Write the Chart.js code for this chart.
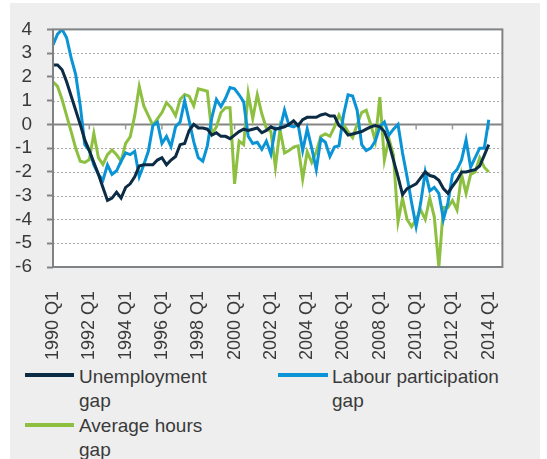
<!DOCTYPE html>
<html>
<head>
<meta charset="utf-8">
<script src="https://cdn.jsdelivr.net/npm/chart.js@4/dist/chart.umd.min.js"></script>
<style>
  html, body { margin: 0; padding: 0; background: #ffffff; }
  body { width: 547px; height: 459px; position: relative; overflow: hidden;
         font-family: "Liberation Sans", Arial, sans-serif; }
  #panel { position: absolute; left: 10px; top: 3px; width: 530px; height: 456px; background: #eeeeee; }
  #wrap { position: absolute; left: 0; top: 0; width: 530px; height: 362px; }
  .lg-line { position: absolute; height: 4px; }
  .lg-text { position: absolute; font-family: "Liberation Sans", Arial, sans-serif; font-size: 19px; line-height: 24px; color: #3a3a3a; white-space: nowrap; }
</style>
</head>
<body>
<div id="panel">
  <div id="wrap"><canvas id="c"></canvas></div>
</div>
<div id="legend"></div>
<script>
// ---- data (1990 Q1 .. 2014 Q1, quarterly) ----
const years = [];
for (let yr = 1990; yr <= 2014; yr++) years.push(yr);
const categories = [];
years.forEach(yr => { for (let q = 1; q <= 4; q++) categories.push(yr + ' Q' + q); });

const seriesNames = ['Unemployment gap', 'Labour participation gap', 'Average hours gap'];

const unemploymentGap = [
  2.5, 2.5, 2.3, 1.8, 1.2, 0.6, 0.0, -0.65, -1.1, -1.6,
  -2.1, -2.65, -3.2, -3.1, -2.85, -3.1, -2.65, -2.5, -2.2, -1.75,
  -1.7, -1.7, -1.7, -1.5, -1.4, -1.7, -1.5, -1.35, -0.85, -0.8,
  -0.25, 0.0, -0.15, -0.15, -0.2, -0.45, -0.35, -0.5, -0.5, -0.6,
  -0.45, -0.3, -0.2, -0.25, -0.2, -0.15, -0.35, -0.25, -0.1, -0.2,
  -0.15, -0.1, 0.0, 0.15, -0.05, 0.2, 0.3, 0.3, 0.3, 0.4,
  0.45, 0.35, 0.35, -0.05, -0.2, -0.45, -0.4, -0.35, -0.3, -0.2,
  -0.1, -0.05, -0.1, -0.3, -0.8, -1.5, -2.2, -2.95, -2.7, -2.6,
  -2.5, -2.25, -2.0, -2.15, -2.2, -2.35, -2.7, -2.9, -2.6, -2.35,
  -2.0, -2.0, -1.95, -1.9, -1.75, -1.3, -0.85
];
const participationGap = [
  3.35, 3.8, 4.0, 3.65, 2.8, 2.1, 0.8, -0.85, -1.1, -1.7,
  -2.1, -2.35, -1.7, -2.1, -1.95, -1.55, -1.2, -1.27, -1.13, -2.2,
  -1.7, -1.13, -0.05, 0.1, -0.8, -0.5, -0.93, -0.1, 0.1, 1.0,
  0.15, -0.72, -1.4, -1.55, -0.9, 0.3, 1.05, 0.75, 1.1, 1.55,
  1.5, 1.25, 0.95, -0.5, -0.8, -0.75, -1.05, -0.7, -1.25, -0.15,
  -0.2, 0.6, -0.05, -0.1, 0.0, -1.1, -0.2, -1.0, -1.9, -0.6,
  -0.75, -1.35, -0.95, -0.9, 0.4, 1.25, 1.2, 0.6, -0.85, -1.1,
  -1.0, -0.7, -0.1, 0.1, -0.45, -0.2, 0.0, -1.2, -2.2, -3.3,
  -4.3, -3.3, -2.0, -2.8, -2.65, -2.9, -4.0, -3.3, -2.1, -1.9,
  -1.5, -0.65, -1.8, -1.4, -1.0, -1.0, 0.2
];
const hoursGap = [
  1.8, 1.6, 1.05, 0.37, -0.3, -1.0, -1.55, -1.6, -1.48, -0.38,
  -1.4, -1.68, -1.27, -1.07, -1.27, -1.55, -0.8, -0.52, 0.37, 1.6,
  0.78, 0.37, -0.04, 0.23, 0.5, 0.92, 0.71, 0.37, 1.05, 1.26,
  1.19, 0.78, 1.5, 1.45, 1.4, -0.4, -0.1, 0.5, 0.7, 0.7,
  -2.5, -0.7, -0.85, 1.3, 0.25, 1.25, 0.45, -0.15, -0.3, -1.8,
  -0.2, -1.2, -1.1, -0.95, -0.9, -2.3, -1.15, -1.6, -1.15, -0.5,
  -0.4, -0.5, -0.1, 0.4, 0.0, -0.3, -0.55, 0.0, 0.5, 0.6,
  0.0, -0.7, 1.15, -1.5, -0.6, -1.3, -4.1, -3.1, -4.0, -4.3,
  -4.0, -3.6, -4.0, -3.1, -3.9, -6.0, -3.5, -3.5, -3.2, -3.6,
  -2.1, -2.9, -2.1, -2.0, -1.4, -1.8, -2.0
];
const yMin = -6, yMax = 4, yStep = 1;
const labelEvery = 8;

const colors = ['#0c2b44', '#0a94d6', '#8dc040'];

// ---- legend (HTML text) ----
const legendItems = [
  { name: seriesNames[0], color: colors[0], line: [25, 373, 49], text: [79, 365] },
  { name: seriesNames[1], color: colors[1], line: [278, 373, 50], text: [332, 365] },
  { name: seriesNames[2], color: colors[2], line: [25, 423, 49], text: [79, 414] }
];
const lg = document.getElementById('legend');
legendItems.forEach(it => {
  const l = document.createElement('div');
  l.className = 'lg-line';
  l.style.left = it.line[0] + 'px'; l.style.top = it.line[1] + 'px';
  l.style.width = it.line[2] + 'px'; l.style.background = it.color;
  lg.appendChild(l);
  const t = document.createElement('div');
  t.className = 'lg-text';
  t.style.left = it.text[0] + 'px'; t.style.top = it.text[1] + 'px';
  const words = it.name.split(' ');
  const last = words.pop();
  t.innerHTML = words.join(' ') + '<br>' + last;
  lg.appendChild(t);
});

// ---- plugin: plot background, dotted grid, zero line, category tick marks, frame ----
const framePlugin = {
  id: 'frame',
  beforeDraw(chart) {
    const { ctx, chartArea: a } = chart;
    ctx.save();
    ctx.fillStyle = '#ffffff';
    ctx.fillRect(a.left, a.top, a.right - a.left, a.bottom - a.top);
    ctx.restore();
  },
  beforeDatasetsDraw(chart) {
    const { ctx, chartArea: a, scales } = chart;
    ctx.save();
    ctx.strokeStyle = '#a9a9a9';
    ctx.lineWidth = 1;
    ctx.setLineDash([2, 2]);
    scales.y.ticks.forEach(t => {
      if (t.value === 0) return;
      const py = Math.round(scales.y.getPixelForValue(t.value)) + 0.5;
      ctx.beginPath(); ctx.moveTo(a.left, py); ctx.lineTo(a.right, py); ctx.stroke();
    });
    ctx.setLineDash([]);
    const y0 = scales.y.getPixelForValue(0);
    ctx.strokeStyle = '#858585';
    ctx.lineWidth = 2;
    ctx.beginPath(); ctx.moveTo(a.left, y0); ctx.lineTo(a.right, y0); ctx.stroke();
    ctx.strokeStyle = '#9a9a9a';
    ctx.lineWidth = 1.5;
    for (let i = 0; i < categories.length; i += labelEvery) {
      const px = scales.x.getPixelForValue(i);
      ctx.beginPath(); ctx.moveTo(px, y0); ctx.lineTo(px, y0 + 5); ctx.stroke();
    }
    ctx.restore();
  },
  afterDatasetsDraw(chart) {
    const { ctx, chartArea: a } = chart;
    ctx.save();
    ctx.strokeStyle = '#7f8385';
    ctx.lineWidth = 2;
    ctx.strokeRect(a.left, a.top, a.right - a.left, a.bottom - a.top);
    ctx.restore();
  }
};

const font = { family: '"Liberation Sans", Arial, sans-serif', size: 18 };
const yFont = { family: '"Liberation Sans", Arial, sans-serif', size: 19 };

new Chart(document.getElementById('c'), {
  type: 'line',
  data: {
    labels: categories,
    datasets: [unemploymentGap, participationGap, hoursGap].map((d, k) => ({
      label: seriesNames[k],
      data: d,
      borderColor: colors[k],
      backgroundColor: colors[k],
      borderWidth: 3,
      pointRadius: 0,
      tension: 0,
      fill: false
    }))
  },
  options: {
    responsive: true,
    maintainAspectRatio: false,
    animation: false,
    events: [],
    layout: { padding: { top: 20, right: 24, left: 0, bottom: 0 } },
    plugins: { legend: { display: false }, tooltip: { enabled: false } },
    scales: {
      x: {
        type: 'category',
        offset: false,
        grid: { display: false },
        border: { display: false },
        afterFit: s => { s.height = 98; },
        ticks: {
          autoSkip: false,
          minRotation: 90,
          maxRotation: 90,
          padding: 16,
          color: '#3a3a3a',
          font: font,
          callback: function (v, i) { return i % labelEvery === 0 ? categories[i] : ''; }
        }
      },
      y: {
        min: yMin,
        max: yMax,
        afterFit: s => { s.width = 43; },
        border: { display: false },
        grid: {
          drawOnChartArea: false,
          tickLength: 6,
          tickColor: '#858585',
          tickWidth: 2
        },
        ticks: {
          stepSize: yStep,
          autoSkip: false,
          padding: 15,
          color: '#3a3a3a',
          font: yFont
        }
      }
    }
  },
  plugins: [framePlugin]
});
</script>
</body>
</html>
